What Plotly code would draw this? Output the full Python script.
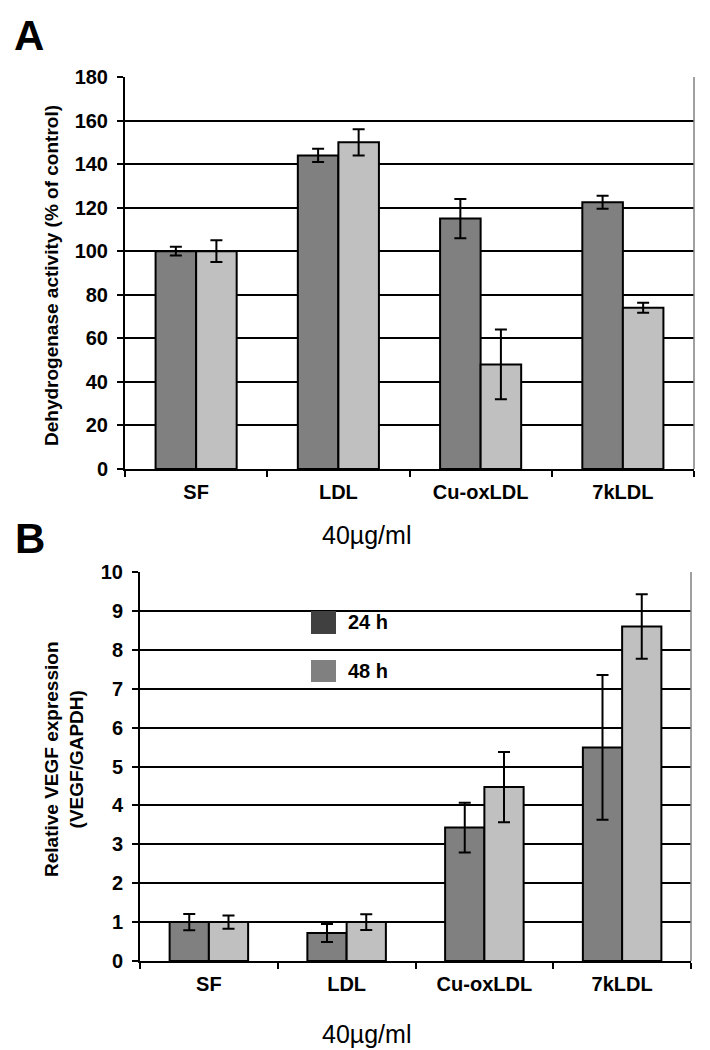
import plotly.graph_objects as go

# ---------------- data ----------------
categories = ["SF", "LDL", "Cu-oxLDL", "7kLDL"]

# Panel A: dehydrogenase activity (% of control)
a_24h = [100, 144, 115, 122.5]
a_24h_err = [2, 3, 9, 3]
a_48h = [100, 150, 48, 74]
a_48h_err = [5, 6, 16, 2.3]
a_ticks = [0, 20, 40, 60, 80, 100, 120, 140, 160, 180]

# Panel B: relative VEGF expression (VEGF/GAPDH)
b_24h = [1.0, 0.72, 3.43, 5.49]
b_24h_err = [0.21, 0.23, 0.64, 1.86]
b_48h = [1.0, 1.0, 4.47, 8.6]
b_48h_err = [0.17, 0.2, 0.9, 0.83]
b_ticks = [0, 1, 2, 3, 4, 5, 6, 7, 8, 9, 10]

series_names = ["24 h", "48 h"]

# ---------------- style ----------------
W, H = 710, 1050
FONT = "Liberation Sans"
DARK = "#808080"
LIGHT = "#c0c0c0"
LEG_DARK = "#404040"
LEG_LIGHT = "#808080"


def px_x(p):
    return p / W


def px_y(p):
    return 1 - p / H


fig = go.Figure()


def add_bars(vals, errs, color, name, xa, ya):
    fig.add_trace(go.Bar(
        x=categories, y=vals, name=name, xaxis=xa, yaxis=ya,
        marker=dict(color=color, line=dict(color="black", width=2)),
        error_y=dict(type="data", array=errs, visible=True,
                     color="black", thickness=2, width=6),
        showlegend=False,
    ))


add_bars(a_24h, a_24h_err, DARK, series_names[0], "x", "y")
add_bars(a_48h, a_48h_err, LIGHT, series_names[1], "x", "y")
add_bars(b_24h, b_24h_err, DARK, series_names[0], "x2", "y2")
add_bars(b_48h, b_48h_err, LIGHT, series_names[1], "x2", "y2")

tickfont = dict(family=FONT, size=20, color="black", weight="bold")

xcommon = dict(
    type="category", showline=True, linecolor="black", linewidth=2,
    ticks="outside", tickson="boundaries", ticklen=6, tickwidth=2,
    tickcolor="black", tickfont=tickfont, showgrid=False,
    ticklabelstandoff=4, automargin=False, fixedrange=True,
)
ycommon = dict(
    showline=True, linecolor="black", linewidth=2,
    ticks="outside", ticklen=6, tickwidth=2, tickcolor="black",
    tickfont=tickfont, showgrid=True, gridcolor="black", gridwidth=2,
    zeroline=False, automargin=False, fixedrange=True,
    ticklabelstandoff=5,
)

fig.update_layout(
    width=W, height=H,
    margin=dict(l=0, r=0, t=0, b=0, autoexpand=False),
    paper_bgcolor="white", plot_bgcolor="white",
    barmode="group", bargap=0.43, bargroupgap=0,
    xaxis=dict(domain=[px_x(117), px_x(686)], anchor="y", **xcommon),
    yaxis=dict(domain=[px_y(461), px_y(69)], anchor="x", range=[0, 180],
               tickvals=a_ticks, **ycommon),
    xaxis2=dict(domain=[px_x(132), px_x(683)], anchor="y2", **xcommon),
    yaxis2=dict(domain=[px_y(953), px_y(564)], anchor="x2", range=[0, 10],
                tickvals=b_ticks, **ycommon),
)

# right plot-area borders (thin grey)
for xr, yr in (("x domain", "y domain"), ("x2 domain", "y2 domain")):
    fig.add_shape(type="line", xref=xr, yref=yr, x0=1, x1=1, y0=0, y1=1,
                  line=dict(color="#808080", width=1.5))

# legend for panel B (shapes + text)
fig.add_shape(type="rect", xref="paper", yref="paper",
              x0=px_x(303), x1=px_x(328), y0=px_y(626), y1=px_y(603),
              fillcolor=LEG_DARK, line=dict(width=0))
fig.add_shape(type="rect", xref="paper", yref="paper",
              x0=px_x(303), x1=px_x(328), y0=px_y(674), y1=px_y(652),
              fillcolor=LEG_LIGHT, line=dict(width=0))

annos = [
    dict(text=series_names[0], x=px_x(338), y=px_y(614), xanchor="left",
         yanchor="middle", font=dict(family=FONT, size=20, color="black", weight="bold")),
    dict(text=series_names[1], x=px_x(338), y=px_y(663), xanchor="left",
         yanchor="middle", font=dict(family=FONT, size=20, color="black", weight="bold")),
    dict(text="A", x=px_x(21), y=px_y(28), xanchor="center", yanchor="middle",
         font=dict(family=FONT, size=42, color="black", weight="bold")),
    dict(text="B", x=px_x(22), y=px_y(530), xanchor="center", yanchor="middle",
         font=dict(family=FONT, size=42, color="black", weight="bold")),
    dict(text="40\u00b5g/ml", x=px_x(358), y=px_y(527), xanchor="center",
         yanchor="middle", font=dict(family=FONT, size=25, color="black")),
    dict(text="40\u00b5g/ml", x=px_x(358), y=px_y(1026), xanchor="center",
         yanchor="middle", font=dict(family=FONT, size=25, color="black")),
    dict(text="Dehydrogenase activity (% of control)", x=px_x(43), y=px_y(268),
         textangle=-90, xanchor="center", yanchor="middle",
         font=dict(family=FONT, size=19, color="black", weight="bold")),
    dict(text="Relative VEGF expression<br>(VEGF/GAPDH)", x=px_x(56), y=px_y(751),
         textangle=-90, xanchor="center", yanchor="middle",
         font=dict(family=FONT, size=19, color="black", weight="bold")),
]
for a in annos:
    fig.add_annotation(xref="paper", yref="paper", showarrow=False, **a)

fig.write_html("out.html")
